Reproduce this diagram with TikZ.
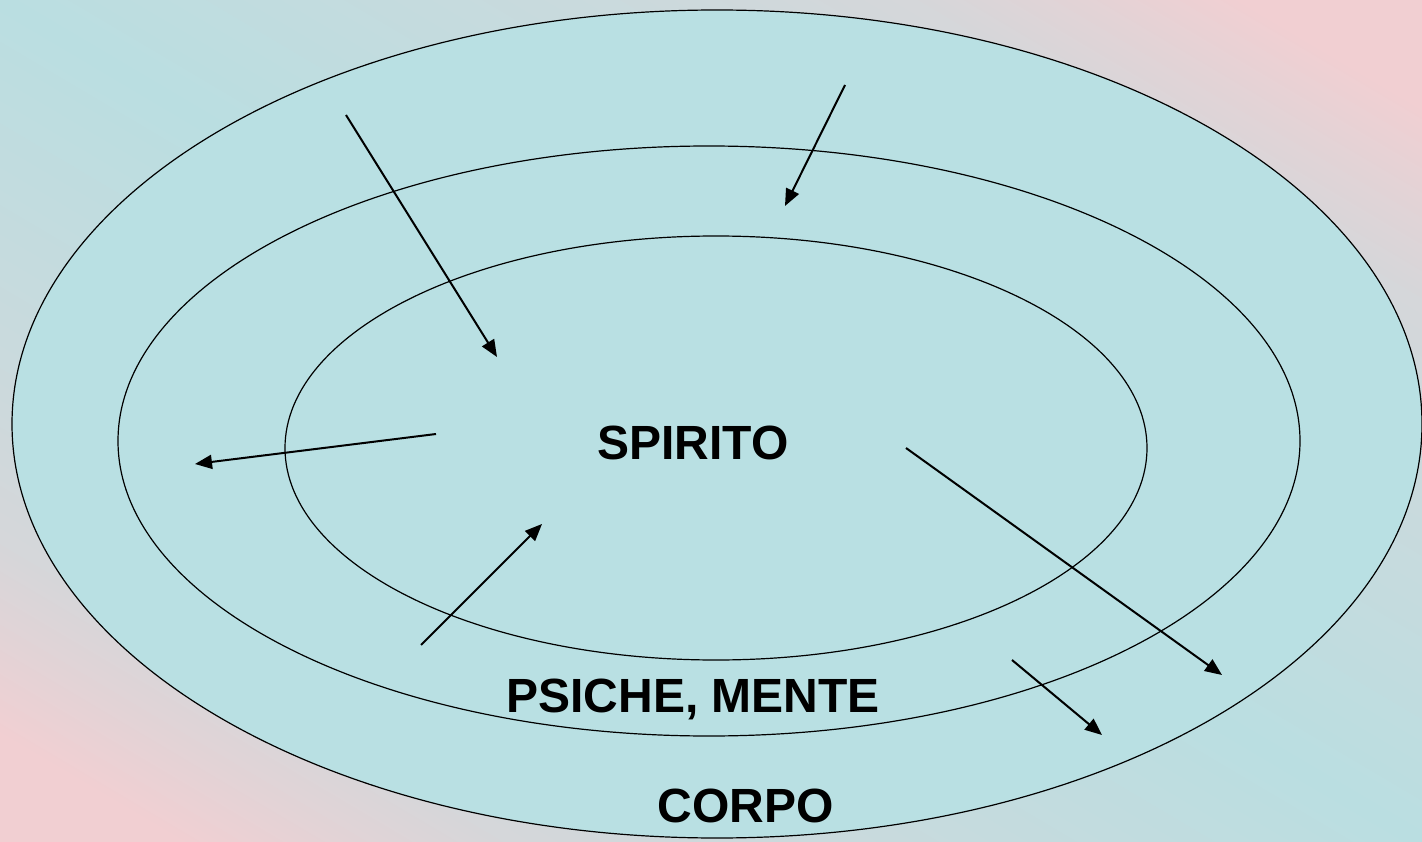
\documentclass[tikz,border=0pt]{standalone}
\usepackage{fontspec}
\setmainfont{Liberation Sans}
\usetikzlibrary{arrows.meta}
\definecolor{bgpink}{HTML}{F1CFD2}
\definecolor{bgcyan}{HTML}{BADEE1}
\definecolor{ringfill}{HTML}{B9E0E3}
\colorlet{bgA}{bgpink!30!bgcyan}
\colorlet{bgB}{bgpink!50!bgcyan}
\colorlet{bgC}{bgpink!72!bgcyan}
\pgfdeclarehorizontalshading{bgshade}{100bp}{%
  color(0bp)=(bgpink); color(20bp)=(bgpink); color(24.2bp)=(bgC);
  color(27.8bp)=(bgB); color(35bp)=(bgA); color(50bp)=(bgcyan);
  color(65bp)=(bgA); color(72.2bp)=(bgB); color(75.8bp)=(bgC);
  color(80bp)=(bgpink); color(100bp)=(bgpink)}
\tikzset{
  ring/.style={draw=black, line width=1.2pt, fill=ringfill},
  arr/.style={line width=2pt, -{Triangle[length=17pt,width=14pt]}},
  lbl/.style={font=\bfseries\fontsize{48}{52}\selectfont, inner sep=0pt}
}
\begin{document}
\begin{tikzpicture}[x=1pt,y=-1pt]
\useasboundingbox (0,0) rectangle (1422,842);
\shade[shading=bgshade, shading angle=59.4] (0,0) rectangle (1422,842);
\draw[ring] (717,424) ellipse [x radius=705, y radius=414];
\draw[ring] (709,441) ellipse [x radius=591, y radius=295];
\draw[ring] (716,448) ellipse [x radius=431, y radius=212];
\node[lbl] (spirito) at (693,443) {SPIRITO};
\node[lbl] (psiche) at (693,699) {PSICHE, MENTE};
\node[lbl] (corpo) at (746,806) {CORPO};
\coordinate (a1s) at (346,115); \coordinate (a1e) at (497,357);
\coordinate (a2s) at (845,85);  \coordinate (a2e) at (785,206);
\coordinate (a3s) at (436,434); \coordinate (a3e) at (195,464);
\coordinate (a4s) at (421,645); \coordinate (a4e) at (542,524);
\coordinate (a5s) at (906,448); \coordinate (a5e) at (1222,675);
\coordinate (a6s) at (1012,660); \coordinate (a6e) at (1102,735);
\draw[arr] (a1s) -- (a1e);
\draw[arr] (a2s) -- (a2e);
\draw[arr] (a3s) -- (a3e);
\draw[arr] (a4s) -- (a4e);
\draw[arr] (a5s) -- (a5e);
\draw[arr] (a6s) -- (a6e);
\end{tikzpicture}
\end{document}
